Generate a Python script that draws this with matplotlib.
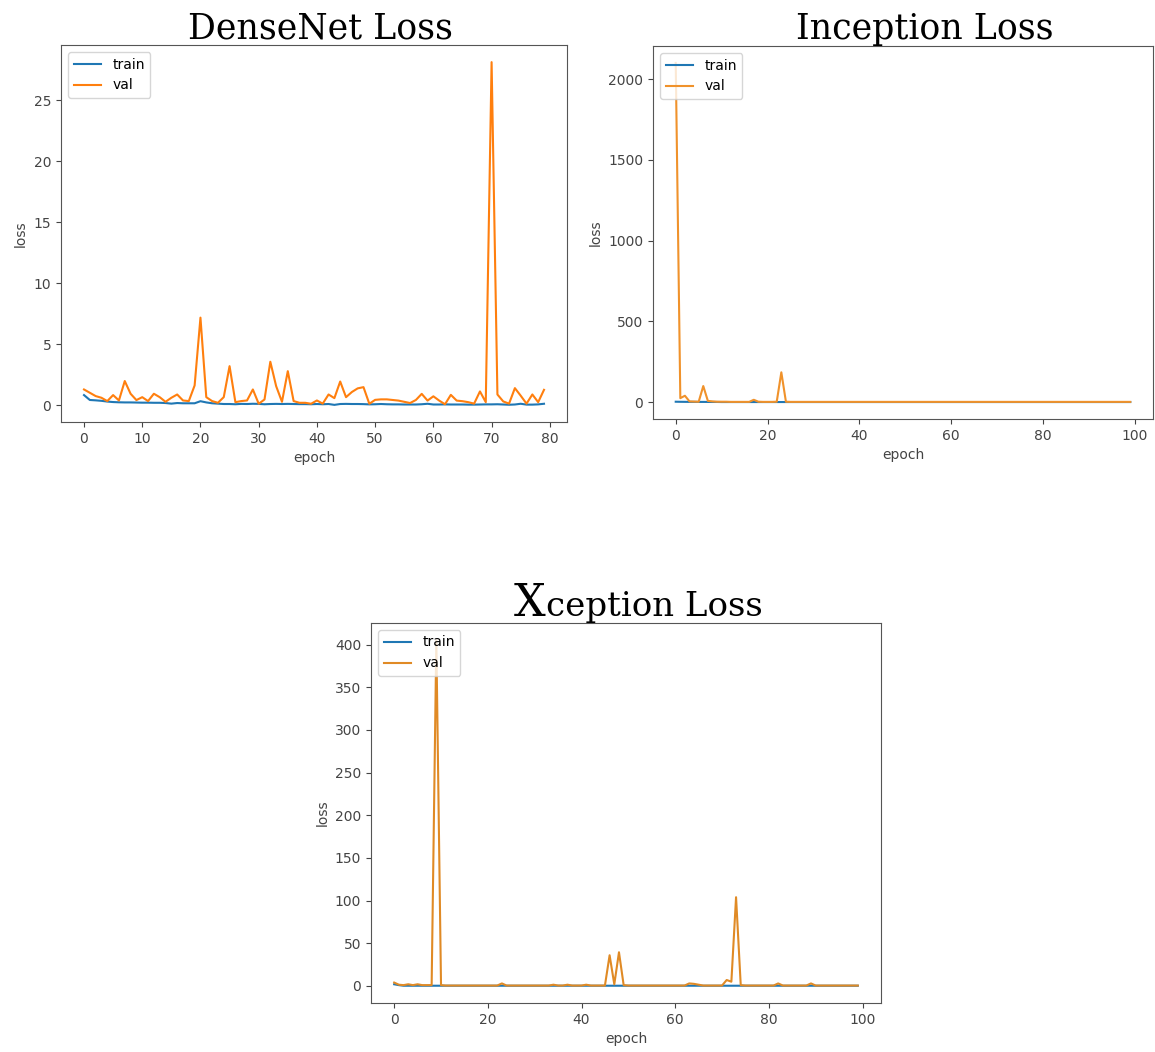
import numpy as np
import matplotlib.pyplot as plt
from matplotlib.transforms import offset_copy

# DenseNet, 80 epochs
densenet_train = [0.85, 0.45, 0.42, 0.38, 0.32, 0.28, 0.26, 0.25, 0.25, 0.24,
                  0.23, 0.23, 0.22, 0.22, 0.20, 0.15, 0.20, 0.18, 0.18, 0.18,
                  0.35, 0.25, 0.18, 0.15, 0.12, 0.12, 0.10, 0.13, 0.12, 0.14,
                  0.13, 0.10, 0.12, 0.13, 0.12, 0.13, 0.12, 0.11, 0.11, 0.10,
                  0.12, 0.10, 0.12, 0.05, 0.12, 0.13, 0.12, 0.12, 0.11, 0.09,
                  0.10, 0.12, 0.10, 0.09, 0.09, 0.08, 0.08, 0.08, 0.10, 0.14,
                  0.08, 0.08, 0.09, 0.08, 0.08, 0.08, 0.07, 0.07, 0.08, 0.09,
                  0.09, 0.10, 0.08, 0.06, 0.08, 0.14, 0.07, 0.07, 0.09, 0.14]
densenet_val = [1.31, 1.04, 0.77, 0.63, 0.36, 0.85, 0.41, 2.00, 0.96, 0.44,
                0.68, 0.36, 0.96, 0.68, 0.30, 0.63, 0.90, 0.41, 0.36, 1.64,
                7.19, 0.68, 0.36, 0.22, 0.68, 3.22, 0.27, 0.36, 0.41, 1.31,
                0.14, 0.49, 3.58, 1.58, 0.30, 2.81, 0.36, 0.22, 0.22, 0.14,
                0.41, 0.15, 0.90, 0.60, 1.96, 0.68, 1.10, 1.40, 1.50, 0.14,
                0.46, 0.50, 0.50, 0.45, 0.40, 0.30, 0.20, 0.45, 0.95, 0.40,
                0.75, 0.40, 0.10, 0.87, 0.40, 0.35, 0.27, 0.15, 1.15, 0.27,
                28.1, 0.90, 0.33, 0.15, 1.42, 0.80, 0.15, 0.90, 0.27, 1.28]

# Inception, 100 epochs (only the first epochs differ from the flat tail)
inception_head_train = [3.0, 2.5, 2.2, 2.0, 2.0, 1.8, 1.8, 1.6, 1.5, 1.5]
inception_head_val = [2100, 25, 40, 5, 4, 3, 100, 8, 5, 3,
                      3, 3, 2, 2, 2, 2, 2, 15, 3, 2,
                      2, 2, 3, 185, 3]
inception_tail_train = 1.0
inception_tail_val = 2.0

# Xception, 100 epochs: values listed by epoch where they leave the baseline
xception_base_train = 0.3
xception_base_val = 0.5
xception_val_points = {0: 4, 1: 1.5, 2: 1, 3: 2, 4: 1, 5: 2, 6: 1, 7: 1, 8: 1,
                       9: 405, 10: 1, 23: 3, 34: 1.5, 37: 1.5, 41: 1.5,
                       46: 36, 47: 2, 48: 39.5, 49: 1, 63: 3, 64: 2.5, 65: 1.5,
                       71: 7, 72: 5, 73: 104, 74: 1, 82: 3, 89: 3}
xception_train_points = {0: 2.0, 1: 1.0}

TRAIN_COLOR = "#1f77b4"
VAL_COLOR = "#ff7f0e"
TITLE_FONT = "DejaVu Serif"


def build_series(n, head, tail):
    arr = np.full(n, tail, dtype=float)
    arr[:len(head)] = head
    return arr


def build_sparse(n, base, points):
    arr = np.full(n, base, dtype=float)
    for k, v in points.items():
        arr[k] = v
    return arr


def draw_panel(ax, train, val, val_color=VAL_COLOR):
    ax.plot(np.arange(len(train)), train, color=TRAIN_COLOR, lw=1.5, label="train")
    ax.plot(np.arange(len(val)), val, color=val_color, lw=1.5, label="val")
    ax.set_xlabel("epoch", fontsize=10, color="#444444")
    ax.set_ylabel("loss", fontsize=10, color="#444444")
    ax.tick_params(labelsize=10, colors="#444444")
    for s in ax.spines.values():
        s.set_color("#555555")
    ax.legend(loc="upper left", fontsize=10)


fig = plt.figure(figsize=(11.55, 10.52), dpi=100)
W, H = 1155, 1052


def axes_px(left, top, right, bottom):
    return fig.add_axes([left / W, 1 - bottom / H, (right - left) / W, (bottom - top) / H])


ax1 = axes_px(61, 45, 567, 422)
draw_panel(ax1, densenet_train, densenet_val)
ax1.set_title("DenseNet Loss", fontsize=25, family=TITLE_FONT, pad=4, x=0.512)
ax1.set_xticks(range(0, 81, 10))
ax1.set_yticks(range(0, 26, 5))

ax2 = axes_px(653, 46, 1153, 419)
draw_panel(ax2,
           build_series(100, inception_head_train, inception_tail_train),
           build_series(100, inception_head_val, inception_tail_val),
           val_color="#f0922b")
ax2.set_title("Inception Loss", fontsize=25, family=TITLE_FONT, pad=4, x=0.544)
ax2.set_xticks(range(0, 101, 20))

ax3 = axes_px(371, 623, 881, 1003)
draw_panel(ax3,
           build_sparse(100, xception_base_train, xception_train_points),
           build_sparse(100, xception_base_val, xception_val_points),
           val_color="#e08a25")
# title drawn in two pieces so the leading capital can be set larger
title_tr = offset_copy(ax3.transAxes, fig=fig, x=0, y=5, units="points")
ax3.text(0.343, 1.0, "X", transform=title_tr, ha="right", va="baseline",
         fontsize=32, family=TITLE_FONT)
ax3.text(0.343, 1.0, "ception Loss", transform=title_tr, ha="left", va="baseline",
         fontsize=24.5, family=TITLE_FONT)
ax3.set_xticks(range(0, 101, 20))
ax3.set_yticks(range(0, 401, 50))

fig.savefig("out.png", dpi=100)
